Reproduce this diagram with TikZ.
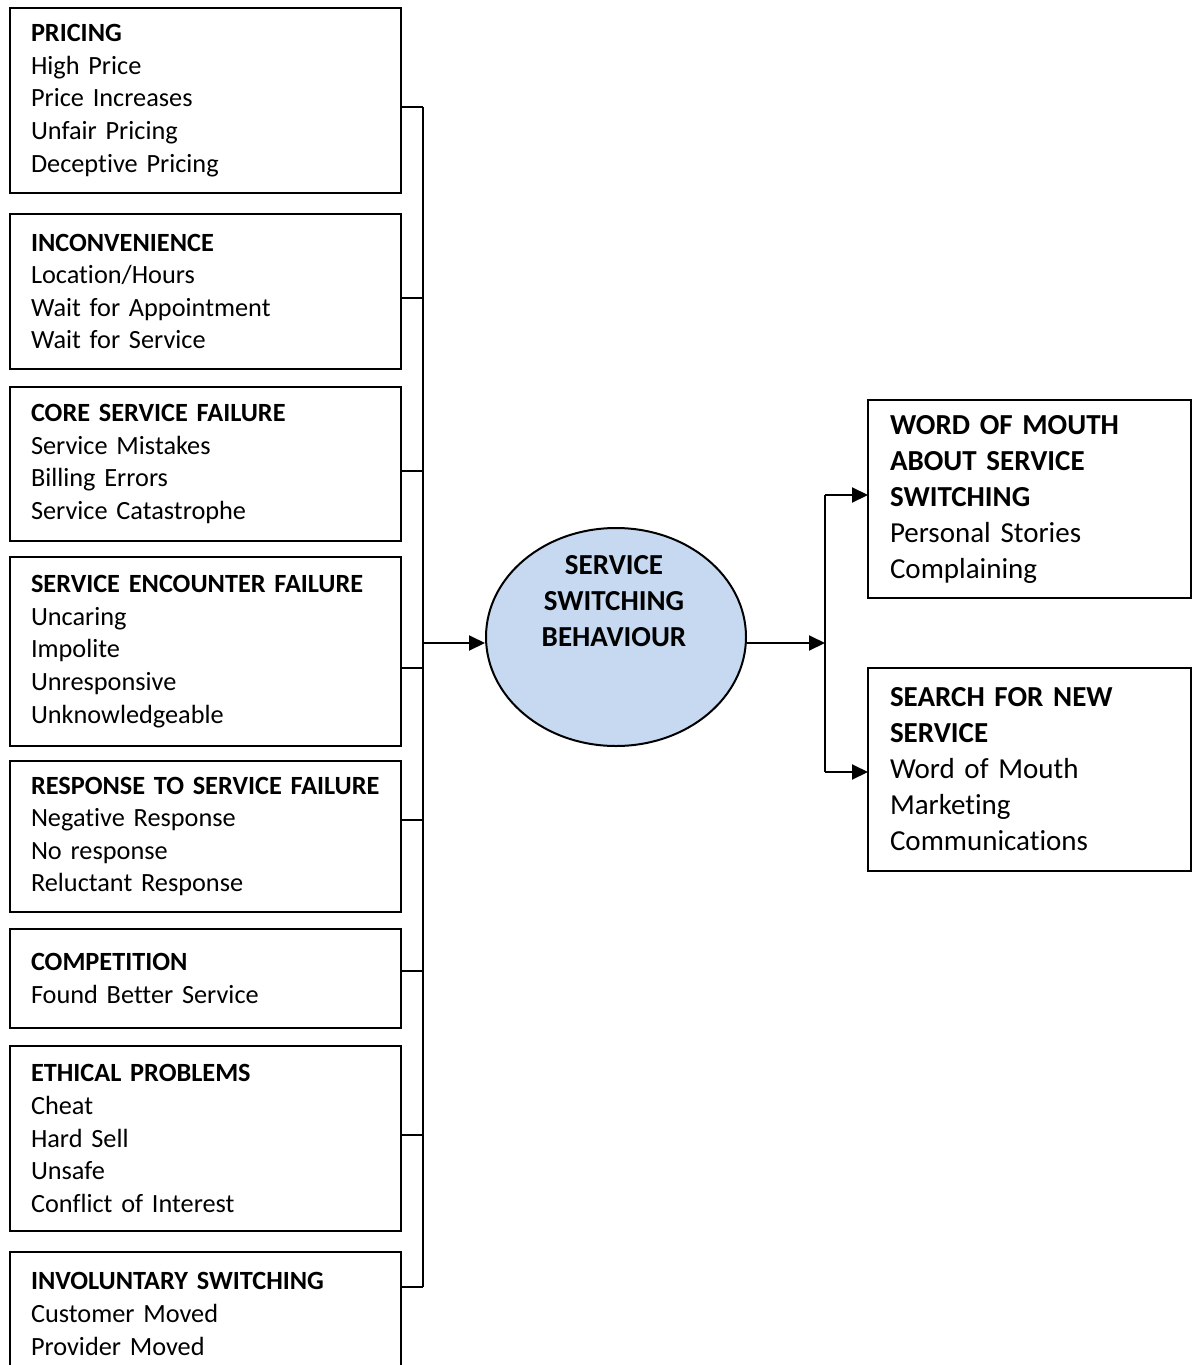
\documentclass[tikz,border=0pt]{standalone}
\usepackage{fontspec}
\setmainfont{Carlito}[Ligatures=NoCommon]
\usetikzlibrary{arrows.meta,shapes.geometric}
\definecolor{circfill}{HTML}{C6D9F1}
\begin{document}
\begin{tikzpicture}[x=1pt,y=-1pt,line width=2pt,
  lbox/.style={draw, anchor=north west, text width=349pt, inner xsep=21pt, inner ysep=0pt, outer sep=0pt, align=left, font=\fontsize{26.3}{32.6}\selectfont},
  rbox/.style={draw, anchor=north west, text width=279pt, inner xsep=22pt, inner ysep=0pt, outer sep=0pt, align=left, font=\fontsize{29}{36}\selectfont},
  arr/.style={-{Triangle[length=16pt,width=15pt]}}]
\useasboundingbox (0,0) rectangle (1194,1365);
\clip (0,0) rectangle (1194,1365);
% left boxes
\node[lbox, minimum height=185pt] (b1) at (10,8) {\textbf{PRICING}\\High Price\\Price Increases\\Unfair Pricing\\Deceptive Pricing};
\node[lbox, minimum height=155pt] (b2) at (10,214) {\textbf{INCONVENIENCE}\\Location/Hours\\Wait for Appointment\\Wait for Service};
\node[lbox, minimum height=154pt] (b3) at (10,387) {\textbf{CORE SERVICE FAILURE}\\Service Mistakes\\Billing Errors\\Service Catastrophe};
\node[lbox, minimum height=189pt] (b4) at (10,557) {\textbf{SERVICE ENCOUNTER FAILURE}\\Uncaring\\Impolite\\Unresponsive\\Unknowledgeable};
\node[lbox, minimum height=151pt] (b5) at (10,761) {\textbf{RESPONSE TO SERVICE FAILURE}\\Negative Response\\No response\\Reluctant Response};
\node[lbox, minimum height=99pt] (b6) at (10,929) {\textbf{COMPETITION}\\Found Better Service};
\node[lbox, minimum height=185pt] (b7) at (10,1046) {\textbf{ETHICAL PROBLEMS}\\Cheat\\Hard Sell\\Unsafe\\Conflict of Interest};
\node[lbox, minimum height=124pt] (b8) at (10,1252) {\textbf{INVOLUNTARY SWITCHING}\\Customer Moved\\Provider Moved};
% bus coordinates
\coordinate (s1) at (423,107);
\coordinate (s2) at (423,298);
\coordinate (s3) at (423,471);
\coordinate (s4) at (423,668);
\coordinate (s5) at (423,820);
\coordinate (s6) at (423,971);
\coordinate (s7) at (423,1135);
\coordinate (s8) at (423,1287);
\coordinate (smid) at (423,643);
\foreach \i in {1,...,8} {\draw (b\i.east |- s\i) -- (s\i);}
\draw (s1) -- (s8);
% central ellipse
\node[ellipse, draw, fill=circfill, minimum width=260pt, minimum height=218pt, inner sep=0pt] (circ) at (616,637) {};
\node[font=\bfseries\fontsize{29}{36}\selectfont, align=center] (ctext) at (614,601) {SERVICE\\SWITCHING\\BEHAVIOUR};
\draw[arr] (smid) -- (circ.west |- smid);
% right side
\node[rbox, minimum height=198pt] (rA) at (868,400) {\textbf{WORD OF MOUTH}\\\textbf{ABOUT SERVICE}\\\textbf{SWITCHING}\\Personal Stories\\Complaining};
\node[rbox, minimum height=203pt] (rB) at (868,668) {\textbf{SEARCH FOR NEW}\\\textbf{SERVICE}\\Word of Mouth\\Marketing\\Communications};
\coordinate (rmid) at (825,643);
\coordinate (rtop) at (825,495);
\coordinate (rbot) at (825,772);
\draw[arr] (circ.east |- rmid) -- (rmid);
\draw (rtop) -- (rbot);
\draw[arr] (rtop) -- (rA.west |- rtop);
\draw[arr] (rbot) -- (rB.west |- rbot);
\end{tikzpicture}
\end{document}
